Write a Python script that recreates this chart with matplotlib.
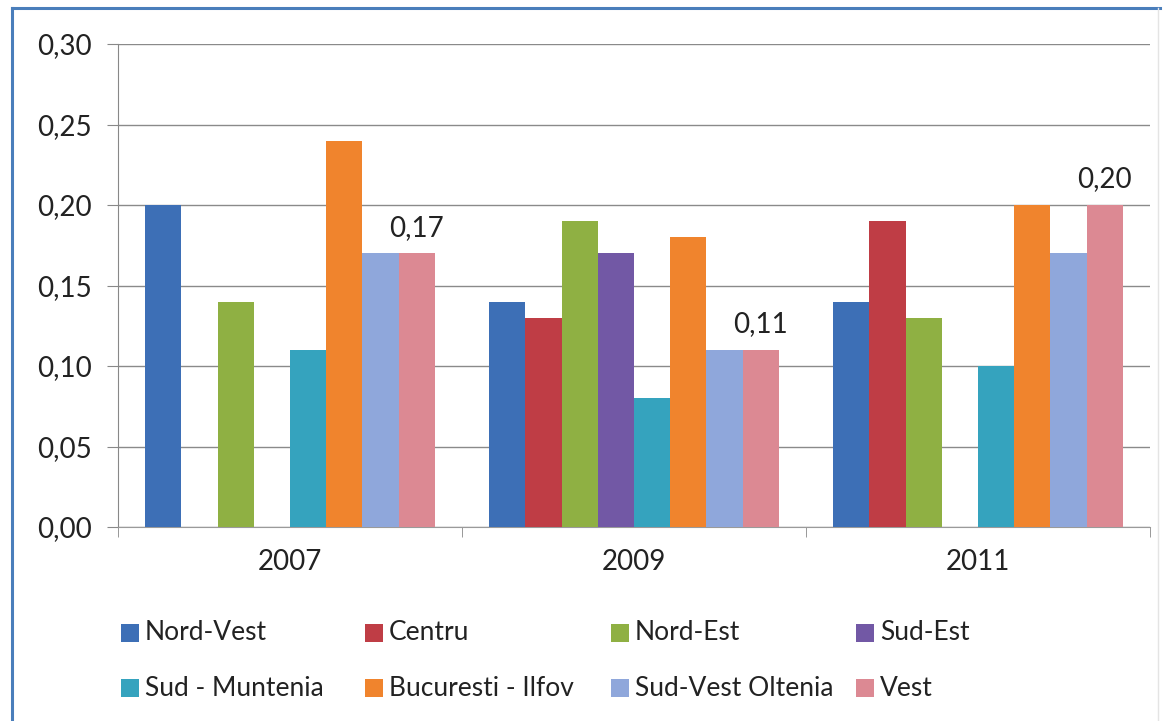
import numpy as np
import matplotlib
matplotlib.use("Agg")
import matplotlib.pyplot as plt
from matplotlib.patches import Rectangle
from matplotlib.lines import Line2D

plt.rcParams['font.family'] = ['Lato', 'DejaVu Sans']

# ---------------------------------------------------------------- data
years = ['2007', '2009', '2011']
regions = ['Nord-Vest', 'Centru', 'Nord-Est', 'Sud-Est',
           'Sud - Muntenia', 'Bucuresti - Ilfov', 'Sud-Vest Oltenia', 'Vest']

nord_vest = [0.20, 0.14, 0.14]
centru = [0.00, 0.13, 0.19]
nord_est = [0.14, 0.19, 0.13]
sud_est = [0.00, 0.17, 0.00]
sud_muntenia = [0.11, 0.08, 0.10]
bucuresti_ilfov = [0.24, 0.18, 0.20]
sud_vest_oltenia = [0.17, 0.11, 0.17]
vest = [0.17, 0.11, 0.20]

series = [nord_vest, centru, nord_est, sud_est,
          sud_muntenia, bucuresti_ilfov, sud_vest_oltenia, vest]
colors = ['#3d6fb6', '#bf3d45', '#8fb043', '#7258a5',
          '#35a3be', '#f0842d', '#8fa7db', '#dc8993']

yticks = [0.00, 0.05, 0.10, 0.15, 0.20, 0.25, 0.30]

# ---------------------------------------------------------------- plot
fig = plt.figure(figsize=(11.72, 7.21), dpi=100)
ax = fig.add_axes([118 / 1172, 1 - 527 / 721, 1032 / 1172, 483 / 721])

x = np.arange(len(years))
w = 1 / 9.5
for i, (vals, col) in enumerate(zip(series, colors)):
    ax.bar(x + (i - 3.5) * w, vals, width=w, color=col, zorder=3)

# data labels only on the last series (Vest)
for xi, v in zip(x, vest):
    ax.annotate(f"{v:.2f}".replace('.', ','), (xi + 3.5 * w, v),
                xytext=(0, 9), textcoords='offset points',
                ha='center', va='bottom', fontsize=20, color='#222222')

ax.set_xlim(-0.5, len(years) - 0.5)
ax.set_ylim(0, 0.30)
ax.set_yticks(yticks)
ax.set_yticklabels([f"{t:.2f}".replace('.', ',') for t in yticks])
ax.yaxis.grid(True, color='#8a8a8a', linewidth=1.0, zorder=0)

ax.set_xticks(x)
ax.set_xticklabels(years)
ax.set_xticks(np.arange(len(years) + 1) - 0.5, minor=True)
ax.tick_params(axis='x', which='major', length=0, pad=16, labelsize=20, colors='#222222')
ax.tick_params(axis='x', which='minor', length=7, color='#888888', direction='out')
ax.tick_params(axis='y', length=8, color='#888888', labelsize=20, pad=11, colors='#222222')

for side in ['top', 'right']:
    ax.spines[side].set_visible(False)
ax.spines['left'].set_color('#888888')
ax.spines['bottom'].set_color('#9a9a9a')

# ---------------------------------------------------------------- legend (4 x 2, like the Excel one)
col_x = [121, 365, 611, 856]
row_y = [633, 688]
for i, (name, col) in enumerate(zip(regions, colors)):
    cx = col_x[i % 4]
    cy = row_y[i // 4]
    fig.patches.append(Rectangle((cx / 1172, 1 - (cy + 9) / 721), 18 / 1172, 18 / 721,
                                 transform=fig.transFigure, facecolor=col, edgecolor='none'))
    fig.text((cx + 24) / 1172, 1 - cy / 721, name, fontsize=19, color='#222222',
             ha='left', va='center')

# ---------------------------------------------------------------- frame of the pasted picture
fig.add_artist(Line2D([12 / 1172, 12 / 1172], [0, 1 - 8 / 721], transform=fig.transFigure,
                      color='#4a7ebb', linewidth=2.2))
fig.add_artist(Line2D([12 / 1172, 1160 / 1172], [1 - 8 / 721, 1 - 8 / 721],
                      transform=fig.transFigure, color='#4a7ebb', linewidth=2.2))
fig.add_artist(Line2D([1158 / 1172, 1158 / 1172], [0, 1 - 8 / 721], transform=fig.transFigure,
                      color='#e4e4e4', linewidth=1.0))

fig.savefig('out.png', dpi=100)
